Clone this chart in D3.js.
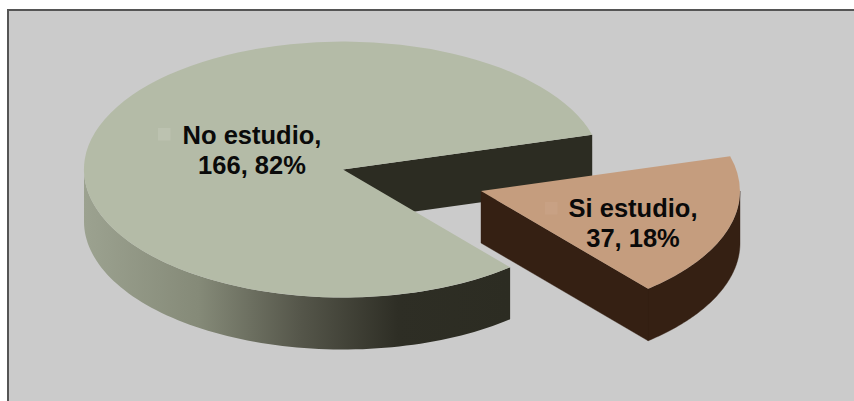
<!DOCTYPE html>
<html><head><meta charset="utf-8">
<script src="https://cdn.jsdelivr.net/npm/d3@7"></script>
<style>html,body{margin:0;padding:0;background:#fff}svg{display:block}</style>
</head><body><svg id="c" width="854" height="401"></svg>
<script>
const categories = ["Si estudio", "No estudio"];
const counts = [37, 166];
const percents = ["18%", "82%"];
const topColors = ["#c59d7e", "#b4bba7"];
const wallColors = ["#352013", "#2c2c22"];

const svg = d3.select("#c");
const cx = 343, cy = 169.5, rx = 259, ry = 128, depth = 52;
const offset = [138, 21.5];
const startDeg = 74.2;

svg.append("rect").attr("width",854).attr("height",401).attr("fill","#cbcbcb");
svg.append("rect").attr("x",8).attr("y",10).attr("width",900).attr("height",500)
  .attr("fill","none").attr("stroke","#555555").attr("stroke-width",2);
svg.append("rect").attr("x",0).attr("y",0).attr("width",854).attr("height",9).attr("fill","#fff");
svg.append("rect").attr("x",0).attr("y",0).attr("width",7).attr("height",401).attr("fill","#fff");

const defs = svg.append("defs");
const g = defs.append("linearGradient").attr("id","wall").attr("gradientUnits","userSpaceOnUse")
  .attr("x1",-rx).attr("x2",165).attr("y1",0).attr("y2",0);
[[0,"#9ca290"],[0.27,"#858a78"],[0.51,"#55564a"],[0.74,"#2e2e25"],[1,"#2c2c22"]].forEach(s=>{
  g.append("stop").attr("offset",s[0]).attr("stop-color",s[1]);
});

const pie = d3.pie().sort(null)
  .startAngle(startDeg*Math.PI/180).endAngle((startDeg+360)*Math.PI/180);
const arcs = pie(counts);
const arc = d3.arc().innerRadius(0).outerRadius(1);
const px = a => rx*Math.sin(a), py = a => -ry*Math.cos(a);

// rim wall between two angles, along the ellipse
function rim(a0,a1){
  const n = 80, s = d3.range(n+1).map(i=>a0+(a1-a0)*i/n);
  return d3.area().x(a=>px(a)).y0(a=>py(a)).y1(a=>py(a)+depth)(s);
}
// flat wall from centre to the rim at angle a
function cut(a){
  return d3.line()([[0,0],[px(a),py(a)],[px(a),py(a)+depth],[0,depth]])+"Z";
}

// main slice
const main = svg.append("g").attr("transform",`translate(${cx},${cy})`);
main.append("path").attr("d",cut(arcs[1].endAngle)).attr("fill",wallColors[1]);
main.append("path").attr("d",rim(arcs[1].startAngle,3*Math.PI/2)).attr("fill","url(#wall)");
main.append("g").attr("transform",`scale(${rx},${ry})`).append("path")
  .attr("d",arc(arcs[1])).attr("fill",topColors[1]);

// exploded slice: both wall faces go in one path so no seam shows between them
const small = svg.append("g").attr("transform",`translate(${cx+offset[0]},${cy+offset[1]})`);
small.append("path").attr("d",cut(arcs[0].endAngle)+rim(Math.PI/2,arcs[0].endAngle))
  .attr("fill",wallColors[0]).attr("stroke",wallColors[0]).attr("stroke-width",0.4);
small.append("g").attr("transform",`scale(${rx},${ry})`).append("path")
  .attr("d",arc(arcs[0])).attr("fill",topColors[0]);

// labels with faint legend keys
const labelPos = [[633,217],[252,144]];
const keyPos = [[545,202,"#c8a184"],[158,128,"#bcc2b0"]];
categories.forEach((c,i)=>{
  svg.append("rect").attr("x",keyPos[i][0]).attr("y",keyPos[i][1]).attr("width",12.5).attr("height",12.5).attr("fill",keyPos[i][2]);
  const t = svg.append("text").attr("text-anchor","middle")
    .attr("font-family","'Liberation Sans',Arial,sans-serif").attr("font-weight","bold")
    .attr("font-size",25.5).attr("fill","#0a0a0a");
  t.append("tspan").attr("x",labelPos[i][0]).attr("y",labelPos[i][1]).text(c+",");
  t.append("tspan").attr("x",labelPos[i][0]).attr("y",labelPos[i][1]+30).text(counts[i]+", "+percents[i]);
});
</script></body></html>
